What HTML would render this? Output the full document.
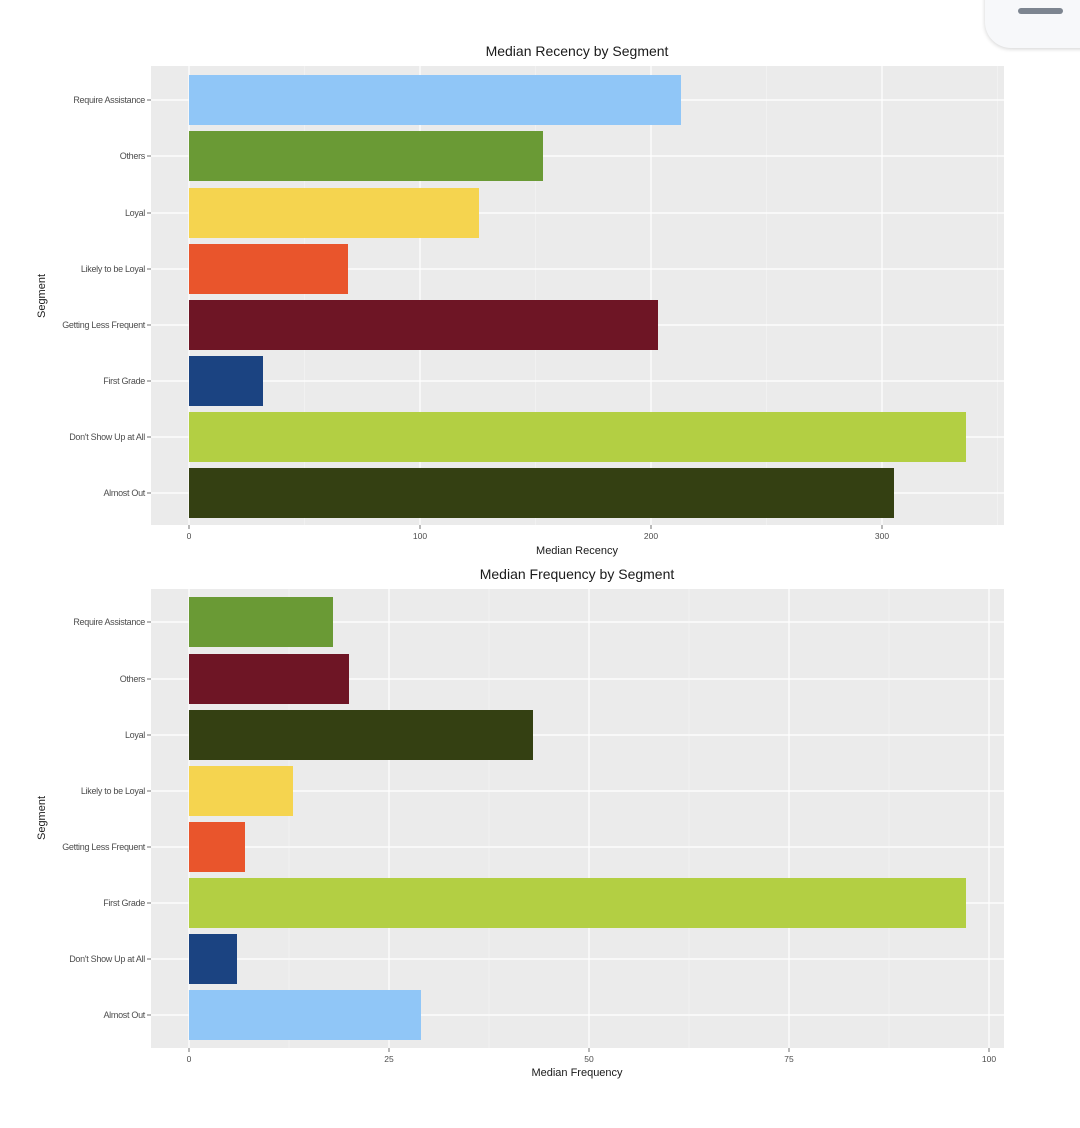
<!DOCTYPE html>
<html><head><meta charset="utf-8"><style>
html,body{margin:0;padding:0;background:#fff;}
body{width:1080px;height:1128px;overflow:hidden;position:relative;font-family:"Liberation Sans",sans-serif;}
svg{position:absolute;left:0;top:0;}
.yl{font-size:9px;fill:#4d4d4d;text-anchor:end;letter-spacing:-0.3px;}
.xl{font-size:8.5px;fill:#4d4d4d;text-anchor:middle;}
.ttl{font-size:14px;fill:#1a1a1a;text-anchor:middle;}
.at{font-size:11px;fill:#1a1a1a;text-anchor:middle;}
#pill{position:absolute;left:985px;top:-40px;width:140px;height:88px;border-radius:26px;background:#f7f8fa;box-shadow:0 1px 4px rgba(0,0,0,0.18);}
#bar{position:absolute;left:1018px;top:8px;width:45px;height:6px;border-radius:3px;background:#7d8590;}
</style></head><body>
<svg width="1080" height="1128" viewBox="0 0 1080 1128" xmlns="http://www.w3.org/2000/svg">
<!-- Panel 1 -->
<text class="ttl" x="577" y="56">Median Recency by Segment</text>
<rect x="151" y="66" width="853" height="459" fill="#ebebeb"/>
<g stroke="#f5f5f5" stroke-width="0.6">
<line x1="304.5" y1="66" x2="304.5" y2="525"/>
<line x1="535.5" y1="66" x2="535.5" y2="525"/>
<line x1="766.5" y1="66" x2="766.5" y2="525"/>
<line x1="997.5" y1="66" x2="997.5" y2="525"/>
</g>
<g stroke="#ffffff" stroke-width="1.2">
<line x1="189" y1="66" x2="189" y2="525"/>
<line x1="420" y1="66" x2="420" y2="525"/>
<line x1="651" y1="66" x2="651" y2="525"/>
<line x1="882" y1="66" x2="882" y2="525"/>
<line x1="151" y1="100" x2="1004" y2="100"/>
<line x1="151" y1="156" x2="1004" y2="156"/>
<line x1="151" y1="213" x2="1004" y2="213"/>
<line x1="151" y1="269" x2="1004" y2="269"/>
<line x1="151" y1="325" x2="1004" y2="325"/>
<line x1="151" y1="381" x2="1004" y2="381"/>
<line x1="151" y1="437" x2="1004" y2="437"/>
<line x1="151" y1="493" x2="1004" y2="493"/>
</g>
<rect x="189" y="75" width="492" height="50" fill="#90c6f7"/>
<rect x="189" y="131" width="354" height="50" fill="#6a9a35"/>
<rect x="189" y="188" width="290" height="50" fill="#f5d44f"/>
<rect x="189" y="244" width="159" height="50" fill="#e9552c"/>
<rect x="189" y="300" width="469" height="50" fill="#6e1525"/>
<rect x="189" y="356" width="74" height="50" fill="#1b4381"/>
<rect x="189" y="412" width="777" height="50" fill="#b3cf43"/>
<rect x="189" y="468" width="705" height="50" fill="#344012"/>
<g stroke="#4d4d4d" stroke-width="0.8">
<line x1="147" y1="100" x2="151" y2="100"/><line x1="147" y1="156" x2="151" y2="156"/>
<line x1="147" y1="213" x2="151" y2="213"/><line x1="147" y1="269" x2="151" y2="269"/>
<line x1="147" y1="325" x2="151" y2="325"/><line x1="147" y1="381" x2="151" y2="381"/>
<line x1="147" y1="437" x2="151" y2="437"/><line x1="147" y1="493" x2="151" y2="493"/>
<line x1="189" y1="525" x2="189" y2="529"/><line x1="420" y1="525" x2="420" y2="529"/>
<line x1="651" y1="525" x2="651" y2="529"/><line x1="882" y1="525" x2="882" y2="529"/>
</g>
<text class="yl" x="145" y="103">Require Assistance</text>
<text class="yl" x="145" y="159">Others</text>
<text class="yl" x="145" y="216">Loyal</text>
<text class="yl" x="145" y="272">Likely to be Loyal</text>
<text class="yl" x="145" y="328">Getting Less Frequent</text>
<text class="yl" x="145" y="384">First Grade</text>
<text class="yl" x="145" y="440">Don't Show Up at All</text>
<text class="yl" x="145" y="496">Almost Out</text>
<text class="xl" x="189" y="539">0</text>
<text class="xl" x="420" y="539">100</text>
<text class="xl" x="651" y="539">200</text>
<text class="xl" x="882" y="539">300</text>
<text class="at" x="577" y="554">Median Recency</text>
<text class="at" transform="translate(45,296) rotate(-90)">Segment</text>

<!-- Panel 2 -->
<text class="ttl" x="577" y="579">Median Frequency by Segment</text>
<rect x="151" y="589" width="853" height="459" fill="#ebebeb"/>
<g stroke="#f5f5f5" stroke-width="0.6">
<line x1="289" y1="589" x2="289" y2="1048"/>
<line x1="489" y1="589" x2="489" y2="1048"/>
<line x1="689" y1="589" x2="689" y2="1048"/>
<line x1="889" y1="589" x2="889" y2="1048"/>
</g>
<g stroke="#ffffff" stroke-width="1.2">
<line x1="189" y1="589" x2="189" y2="1048"/>
<line x1="389" y1="589" x2="389" y2="1048"/>
<line x1="589" y1="589" x2="589" y2="1048"/>
<line x1="789" y1="589" x2="789" y2="1048"/>
<line x1="989" y1="589" x2="989" y2="1048"/>
<line x1="151" y1="622" x2="1004" y2="622"/>
<line x1="151" y1="679" x2="1004" y2="679"/>
<line x1="151" y1="735" x2="1004" y2="735"/>
<line x1="151" y1="791" x2="1004" y2="791"/>
<line x1="151" y1="847" x2="1004" y2="847"/>
<line x1="151" y1="903" x2="1004" y2="903"/>
<line x1="151" y1="959" x2="1004" y2="959"/>
<line x1="151" y1="1015" x2="1004" y2="1015"/>
</g>
<rect x="189" y="597" width="144" height="50" fill="#6a9a35"/>
<rect x="189" y="654" width="160" height="50" fill="#6e1525"/>
<rect x="189" y="710" width="344" height="50" fill="#344012"/>
<rect x="189" y="766" width="104" height="50" fill="#f5d44f"/>
<rect x="189" y="822" width="56" height="50" fill="#e9552c"/>
<rect x="189" y="878" width="777" height="50" fill="#b3cf43"/>
<rect x="189" y="934" width="48" height="50" fill="#1b4381"/>
<rect x="189" y="990" width="232" height="50" fill="#90c6f7"/>
<g stroke="#4d4d4d" stroke-width="0.8">
<line x1="147" y1="622" x2="151" y2="622"/><line x1="147" y1="679" x2="151" y2="679"/>
<line x1="147" y1="735" x2="151" y2="735"/><line x1="147" y1="791" x2="151" y2="791"/>
<line x1="147" y1="847" x2="151" y2="847"/><line x1="147" y1="903" x2="151" y2="903"/>
<line x1="147" y1="959" x2="151" y2="959"/><line x1="147" y1="1015" x2="151" y2="1015"/>
<line x1="189" y1="1048" x2="189" y2="1052"/><line x1="389" y1="1048" x2="389" y2="1052"/>
<line x1="589" y1="1048" x2="589" y2="1052"/><line x1="789" y1="1048" x2="789" y2="1052"/>
<line x1="989" y1="1048" x2="989" y2="1052"/>
</g>
<text class="yl" x="145" y="625">Require Assistance</text>
<text class="yl" x="145" y="682">Others</text>
<text class="yl" x="145" y="738">Loyal</text>
<text class="yl" x="145" y="794">Likely to be Loyal</text>
<text class="yl" x="145" y="850">Getting Less Frequent</text>
<text class="yl" x="145" y="906">First Grade</text>
<text class="yl" x="145" y="962">Don't Show Up at All</text>
<text class="yl" x="145" y="1018">Almost Out</text>
<text class="xl" x="189" y="1062">0</text>
<text class="xl" x="389" y="1062">25</text>
<text class="xl" x="589" y="1062">50</text>
<text class="xl" x="789" y="1062">75</text>
<text class="xl" x="989" y="1062">100</text>
<text class="at" x="577" y="1076">Median Frequency</text>
<text class="at" transform="translate(45,818) rotate(-90)">Segment</text>
</svg>
<div id="pill"></div><div id="bar"></div>
</body></html>
